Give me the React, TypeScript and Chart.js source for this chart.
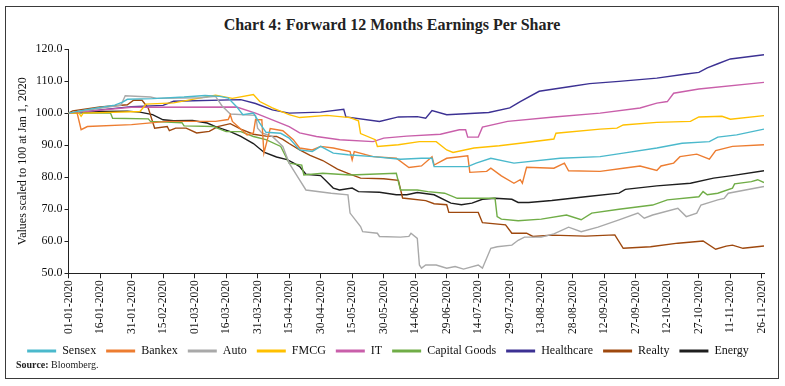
import React, { useEffect, useRef } from 'react';
import { Chart, registerables } from 'chart.js';

Chart.register(...registerables);

const SERIF = '"Liberation Serif", "Times New Roman", serif';

// x positions are day numbers counted from 01-01-2020 (day 0)
const tickLabels = [
  '01-01-2020', '16-01-2020', '31-01-2020', '15-02-2020', '01-03-2020', '16-03-2020',
  '31-03-2020', '15-04-2020', '30-04-2020', '15-05-2020', '30-05-2020', '14-06-2020',
  '29-06-2020', '14-07-2020', '29-07-2020', '13-08-2020', '28-08-2020', '12-09-2020',
  '27-09-2020', '12-10-2020', '27-10-2020', '11-11-2020', '26-11-2020',
];
const tickStepDays = 15;
const lastDay = 331;

const sensexDays = [0, 8, 15, 22, 26, 28, 40, 55, 65, 72, 76, 80, 83, 88, 91, 94, 101, 105, 110, 116, 120, 126, 133, 145, 158, 168, 173, 174, 190, 194, 201, 212, 234, 253, 264, 280, 292, 305, 309, 318, 331];
const sensexValues = [100, 101, 101.8, 102.5, 103.5, 104.3, 104.5, 105, 105.5, 105.2, 104.7, 102, 99.5, 100, 96.9, 94, 93.7, 92.2, 88.5, 88, 89.6, 87.5, 87, 86.4, 85.6, 85.9, 85.9, 83.3, 83.3, 84.4, 85.9, 84.4, 85.9, 86.4, 87.5, 89.1, 90.6, 91.1, 92.5, 93.2, 95];

const bankexDays = [0, 4, 6, 9, 30, 47, 70, 76, 77, 78, 85, 88, 89, 92, 93, 96, 102, 107, 110, 116, 120, 126, 134, 135, 136, 145, 156, 162, 168, 173, 174, 180, 190, 191, 199, 201, 206, 212, 215, 216, 218, 231, 236, 238, 253, 264, 272, 280, 282, 288, 291, 299, 305, 308, 316, 331];
const bankexValues = [100, 100.3, 94.8, 95.8, 96.4, 97.4, 97.4, 98, 99.5, 97.4, 93.2, 93.8, 97.9, 97.9, 87.5, 95.2, 94.5, 91.7, 89.1, 88.5, 89.6, 89.1, 88, 85.4, 88, 86.4, 85.9, 83, 83.5, 86.4, 83.8, 85.9, 86.7, 81.5, 81.8, 82.8, 80.4, 78.1, 79.2, 78.1, 83.1, 82.8, 84.4, 82, 81.8, 82.8, 83.5, 82.1, 83.5, 84.4, 86.4, 87.2, 85.6, 88.3, 89.6, 90.1];

const autoDays = [0, 15, 25, 27, 39, 42, 63, 70, 73, 77, 89, 90, 92, 97, 102, 105, 109, 113, 125, 133, 134, 139, 140, 147, 148, 158, 162, 163, 166, 167, 168, 170, 175, 180, 184, 188, 195, 197, 201, 204, 211, 214, 217, 225, 231, 238, 244, 252, 262, 271, 274, 278, 290, 294, 299, 301, 309, 312, 314, 331];
const autoValues = [100, 101.5, 102.5, 105.4, 105, 104.6, 104.8, 105.2, 102.3, 99.7, 99.3, 95.3, 93.8, 92.7, 89.6, 84.4, 80.2, 76, 75, 74.5, 68.8, 64.6, 63, 62.5, 61.5, 61.3, 61.5, 62.5, 60.9, 52.6, 51.6, 52.6, 52.6, 51.6, 52.1, 51.3, 52.6, 51.6, 57.8, 58.3, 58.8, 60.3, 61.3, 61.3, 62.3, 64.4, 63, 64.4, 66.7, 68.8, 67.2, 68.2, 70.3, 67.7, 68.8, 71.3, 72.9, 73.4, 75, 77.1];

const fmcgDays = [0, 5, 6, 7, 34, 37, 50, 70, 78, 88, 91, 97, 105, 110, 123, 134, 138, 139, 146, 147, 157, 167, 175, 180, 183, 193, 205, 215, 231, 232, 253, 261, 264, 280, 296, 300, 311, 315, 331];
const fmcgValues = [100, 100, 99, 100, 100.5, 102.8, 103.2, 105.6, 104.6, 105.8, 103.6, 101.6, 99.5, 98.6, 99.3, 98.6, 97.6, 93.6, 91.7, 89.6, 90.1, 91.1, 91.1, 88.5, 87.7, 89.1, 89.8, 90.6, 91.9, 93.7, 95, 95.3, 96.3, 97.1, 97.4, 98.8, 99, 98.1, 99.2];

const itDays = [0, 30, 80, 89, 97, 105, 110, 118, 129, 145, 150, 161, 177, 186, 189, 190, 195, 197, 209, 231, 253, 272, 280, 285, 288, 300, 331];
const itValues = [100, 101.8, 101.9, 100, 97.9, 95.8, 93.8, 92.7, 91.7, 91.1, 92.2, 92.8, 93.4, 94.8, 94.8, 92.5, 92.5, 95.6, 97.4, 98.8, 100, 101.6, 103.1, 103.6, 106.2, 107.5, 109.6];

const capitalGoodsDays = [0, 20, 21, 38, 39, 54, 55, 69, 75, 82, 88, 94, 101, 105, 111, 112, 121, 134, 156, 158, 166, 171, 179, 185, 203, 204, 206, 214, 225, 237, 244, 249, 262, 278, 285, 300, 302, 304, 309, 316, 317, 325, 328, 331];
const capitalGoodsValues = [100, 100, 98.4, 98.2, 97.4, 97, 96, 95.8, 94.2, 94.2, 92.7, 91.7, 89.6, 84.4, 83.8, 80.7, 81.2, 80.7, 81.2, 76, 76, 75.5, 75, 73.4, 73.4, 67.7, 66.9, 66.4, 66.9, 68.2, 66.7, 68.8, 70, 71.3, 72.9, 73.9, 75.5, 74.5, 75, 76.6, 77.9, 78.6, 79.2, 78.3];

const healthcareDays = [0, 15, 30, 45, 50, 82, 89, 97, 105, 120, 131, 132, 148, 157, 166, 170, 173, 180, 200, 210, 215, 224, 239, 248, 262, 280, 294, 300, 304, 309, 315, 331];
const healthcareValues = [100, 101, 102, 102.4, 103.7, 104.2, 103, 101, 100, 100.3, 101.2, 98.8, 97.4, 98.8, 98.9, 98.4, 100.8, 99.5, 100.2, 101.6, 103.6, 106.8, 108.3, 109.2, 109.9, 110.9, 112.2, 112.7, 114.1, 115.4, 116.9, 118.2];

const realtyDays = [0, 2, 15, 28, 31, 35, 38, 41, 47, 48, 51, 56, 61, 67, 71, 77, 82, 88, 94, 99, 102, 105, 110, 115, 121, 128, 133, 139, 150, 157, 159, 170, 174, 180, 181, 195, 197, 208, 211, 218, 221, 230, 246, 260, 264, 277, 290, 302, 308, 313, 316, 321, 331];
const realtyValues = [100, 100.7, 101.9, 102.6, 104, 104, 101.5, 95.3, 95.8, 94.5, 95.3, 95.3, 93.8, 94.3, 95.8, 96.7, 95, 93.4, 92.8, 92.7, 91.8, 90.5, 88.5, 86.8, 85.2, 82.5, 81.2, 79.7, 79.5, 79, 73.5, 72.7, 71.7, 71.4, 69, 69, 65.8, 65.1, 62.5, 62.5, 61.5, 61.9, 61.6, 62, 57.8, 58.3, 59.4, 60.1, 57.5, 58.5, 58.8, 57.8, 58.5];

const energyDays = [0, 15, 28, 34, 40, 45, 50, 59, 66, 70, 77, 82, 88, 93, 99, 104, 107, 110, 113, 120, 123, 126, 129, 135, 138, 148, 156, 161, 166, 174, 182, 187, 192, 197, 203, 211, 214, 219, 230, 246, 262, 265, 280, 296, 307, 315, 331];
const energyValues = [100, 100.5, 100.6, 100.3, 99.5, 97.9, 97.6, 97.7, 96.9, 95.8, 94.2, 92.7, 90.5, 87.8, 86.3, 85.5, 84.5, 83.3, 80.9, 80.5, 78.6, 76.6, 76, 76.6, 75.5, 75.3, 74.5, 74.5, 75.2, 74.5, 71.9, 71.4, 71.9, 73.1, 73.4, 73.1, 72.1, 72.1, 72.7, 73.9, 75, 76.2, 77.3, 78.1, 79.7, 80.4, 82];

const seriesNames = ['Sensex', 'Bankex', 'Auto', 'FMCG', 'IT', 'Capital Goods', 'Healthcare', 'Realty', 'Energy'];
const seriesColors = ['#4BB9CC', '#ED7D31', '#A9A9A9', '#FFC000', '#C95FAA', '#70AD47', '#3C3193', '#9E480E', '#1E1E1E'];
const seriesDays = [sensexDays, bankexDays, autoDays, fmcgDays, itDays, capitalGoodsDays, healthcareDays, realtyDays, energyDays];
const seriesValues = [sensexValues, bankexValues, autoValues, fmcgValues, itValues, capitalGoodsValues, healthcareValues, realtyValues, energyValues];

export default function App() {
  const canvasRef = useRef<HTMLCanvasElement | null>(null);

  useEffect(() => {
    document.body.style.margin = '0';
    const canvas = canvasRef.current;
    if (!canvas) return;

    const datasets = seriesNames.map((name, i) => ({
      label: name,
      data: seriesDays[i].map((d, j) => ({ x: d, y: seriesValues[i][j] })),
      borderColor: seriesColors[i],
      backgroundColor: seriesColors[i],
      borderWidth: 1.4,
      pointRadius: 0,
      tension: 0,
    }));

    const chart = new Chart(canvas, {
      type: 'line',
      data: { datasets },
      options: {
        responsive: false,
        animation: false,
        devicePixelRatio: 1,
        layout: { padding: { top: 49, left: 12, right: 21, bottom: 19 } },
        plugins: {
          title: { display: false },
          tooltip: { enabled: false },
          legend: {
            position: 'bottom',
            labels: {
              boxWidth: 29,
              boxHeight: 3,
              padding: 10,
              color: '#111',
              font: { family: SERIF, size: 12 },
              generateLabels: (c: any) =>
                Chart.defaults.plugins.legend.labels
                  .generateLabels(c)
                  .map((it: any) => ({ ...it, lineWidth: 0 })),
            },
          },
        },
        scales: {
          x: {
            type: 'linear',
            min: 0,
            max: lastDay,
            afterBuildTicks: (axis: any) => {
              axis.ticks = tickLabels.map((_, i) => ({ value: i * tickStepDays }));
            },
            afterFit: (s: any) => {
              s.height = 61.7;
            },
            ticks: {
              autoSkip: false,
              minRotation: 90,
              maxRotation: 90,
              padding: 2,
              color: '#111',
              font: { family: SERIF, size: 11.5 },
              callback: (_v: any, i: number) => tickLabels[i],
            },
            grid: { display: true, drawOnChartArea: false, drawTicks: true, tickLength: 5, color: '#222' },
            border: { display: true, color: '#222', width: 1 },
          },
          y: {
            min: 50,
            max: 120,
            afterFit: (s: any) => {
              s.width = 56.5;
            },
            ticks: {
              stepSize: 10,
              padding: 2,
              color: '#111',
              font: { family: SERIF, size: 12 },
              callback: (v: any) => Number(v).toFixed(1),
            },
            title: {
              display: true,
              text: 'Values scaled to 100 at Jan 1, 2020',
              color: '#111',
              font: { family: SERIF, size: 12 },
              padding: { top: 4, bottom: 0 },
            },
            grid: { display: true, drawOnChartArea: false, drawTicks: true, tickLength: 4, color: '#222' },
            border: { display: true, color: '#222', width: 1 },
          },
        },
      },
    });
    return () => chart.destroy();
  }, []);

  return (
    <div style={{ position: 'relative', width: 785, height: 386, background: '#fff', overflow: 'hidden' }}>
      <div
        style={{
          position: 'absolute',
          left: 5,
          top: 6,
          width: 772,
          height: 371,
          border: '1.5px solid #3a3a3a',
        }}
      />
      <div
        style={{
          position: 'absolute',
          left: 5,
          top: 16,
          width: 774,
          textAlign: 'center',
          fontFamily: SERIF,
          fontWeight: 'bold',
          fontSize: 16,
          lineHeight: '18px',
          color: '#222',
        }}
      >
        Chart 4: Forward 12 Months Earnings Per Share
      </div>
      <canvas
        ref={canvasRef}
        width={785}
        height={386}
        style={{ position: 'absolute', left: 0, top: 0, width: 785, height: 386 }}
      />
      <div
        style={{
          position: 'absolute',
          left: 16,
          top: 359,
          fontFamily: SERIF,
          fontSize: 10,
          lineHeight: '12px',
          color: '#222',
          whiteSpace: 'nowrap',
        }}
      >
        <b>Source:</b> Bloomberg.
      </div>
    </div>
  );
}
